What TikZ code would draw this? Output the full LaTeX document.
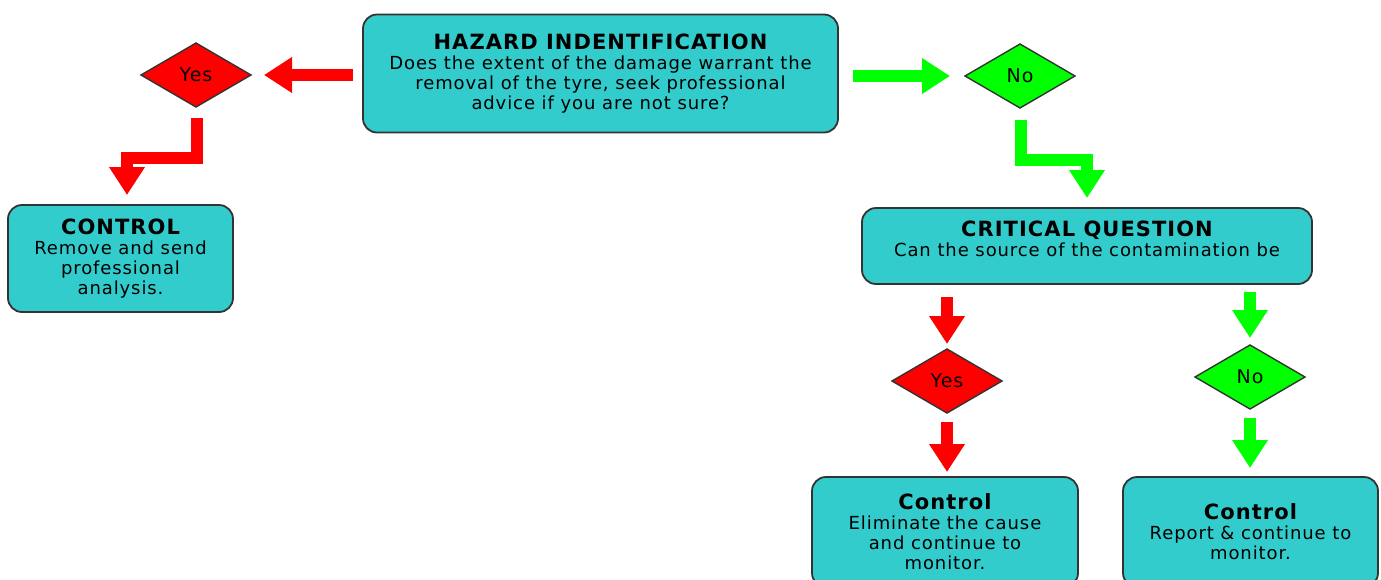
\documentclass[tikz,border=0pt]{standalone}
\usepackage{fontspec}
\setmainfont{DejaVu Sans}[LetterSpace=5]
\usetikzlibrary{positioning,calc,arrows.meta,shapes.geometric}
\definecolor{boxteal}{HTML}{33CCCC}
\definecolor{edgegray}{HTML}{333333}
\definecolor{stopred}{HTML}{FF0000}
\definecolor{gogreen}{HTML}{00FF00}
\tikzset{
  infobox/.style={draw=edgegray,line width=0.9pt,fill=boxteal,rounded corners=7pt,align=center,inner sep=2pt,outer sep=0pt,font=\fontsize{9}{10}\selectfont},
  choice/.style={diamond,draw=edgegray,line width=0.7pt,minimum width=55pt,minimum height=32pt,inner sep=0pt,outer sep=0pt,font=\fontsize{9.5}{10}\selectfont},
  flow/.style={line width=5.8pt,line join=miter,-{Triangle[width=17pt,length=14pt]}}
}
\newcommand{\boxhead}[1]{{\fontsize{10.5}{10}\selectfont\bfseries #1}}

\begin{document}
\begin{tikzpicture}[x=0.5pt,y=-0.5pt]
\useasboundingbox (0,0) rectangle (1381,579);
\node[infobox,minimum width=237.5pt,minimum height=59pt] (haz) at (600.5,73.5) {\boxhead{HAZARD INDENTIFICATION}\\Does the extent of the damage warrant the\\removal of the tyre, seek professional\\advice if you are not sure?};
\node[choice,fill=stopred] (yesA) at (196,75) {Yes};
\node[choice,fill=gogreen] (noA) at (1020,76) {No};
\node[infobox,minimum width=112.5pt,minimum height=53.5pt] (ctrlA) at (120.5,258.5) {\boxhead{CONTROL}\\Remove and send\\professional\\analysis.};
\node[infobox,minimum width=225pt,minimum height=38pt] (crit) at (1087,246) {\boxhead{CRITICAL QUESTION}\\Can the source of the contamination be\\[-3pt]\mbox{}};
\node[choice,fill=stopred] (yesB) at (947,381) {Yes};
\node[choice,fill=gogreen] (noB) at (1250,377) {No};
\node[infobox,minimum width=133pt,minimum height=55pt] (ctrlB) at (945,532) {\boxhead{Control}\\Eliminate the cause\\and continue to\\monitor.};
\node[infobox,minimum width=127.5pt,minimum height=55pt] (ctrlC) at (1250.5,532) {\boxhead{Control}\\Report \& continue to\\monitor.};

\draw[flow,stopred,shorten <=5pt,shorten >=6.5pt] (haz.west |- yesA.east) -- (yesA.east);
\draw[flow,gogreen,shorten <=7.5pt,shorten >=7.5pt] (haz.east |- noA.west) -- (noA.west);
\draw[flow,stopred] ($(yesA.south)+(1,11)$) |- ($(ctrlA.north)+(6.5,-47)$) -- ($(ctrlA.north)+(6.5,-10)$);
\draw[flow,gogreen] ($(noA.south)+(1,12)$) |- ($(crit.north)+(0,-48)$) -- ($(crit.north)+(0,-10)$);
\draw[flow,stopred,shorten <=6.5pt,shorten >=2.5pt] (yesB.north |- crit.south) -- (yesB.north);
\draw[flow,gogreen,shorten <=4pt,shorten >=3.5pt] (noB.north |- crit.south) -- (noB.north);
\draw[flow,stopred,shorten <=4.5pt,shorten >=2.5pt] (yesB.south) -- (yesB.south |- ctrlB.north);
\draw[flow,gogreen,shorten <=4.5pt,shorten >=4.5pt] (noB.south) -- (noB.south |- ctrlC.north);
\end{tikzpicture}
\end{document}
